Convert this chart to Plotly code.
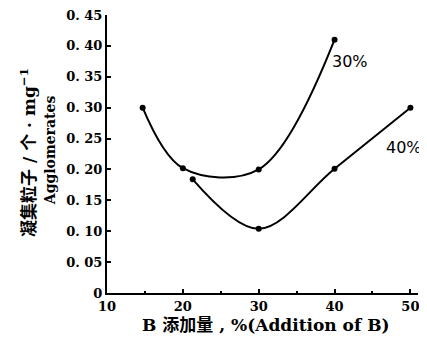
import plotly.graph_objects as go

x30 = [14.7, 20, 30, 40]
y30 = [0.30, 0.202, 0.20, 0.41]
x40 = [21.3, 30, 40, 50]
y40 = [0.184, 0.104, 0.201, 0.30]
ytick_vals = [0, 0.05, 0.10, 0.15, 0.20, 0.25, 0.30, 0.35, 0.40, 0.45]
ytick_text = ["0", "0. 05", "0. 10", "0. 15", "0. 20", "0. 25", "0. 30", "0. 35", "0. 40", "0. 45"]
xtick_vals = [10, 20, 30, 40, 50]
labels = ["30%", "40%"]
label_pos = [(42.1, 0.374), (49.2, 0.235)]

serif = "DejaVu Serif, Liberation Serif, serif"
cjk = "DejaVu Serif, Noto Sans CJK SC, serif"

fig = go.Figure()
for xs, ys in [(x30, y30), (x40, y40)]:
    fig.add_trace(go.Scatter(
        x=xs, y=ys, mode="lines+markers",
        line=dict(color="black", width=2, shape="spline", smoothing=1.0),
        marker=dict(color="black", size=6),
        showlegend=False, cliponaxis=False,
    ))

for txt, (lx, ly) in zip(labels, label_pos):
    fig.add_annotation(x=lx, y=ly, text=txt, showarrow=False,
                       xanchor="center", yanchor="middle",
                       font=dict(family="DejaVu Sans, sans-serif", size=16, color="black"))

# axis titles
fig.add_annotation(xref="paper", yref="paper", x=0.511, y=-0.115,
                   xanchor="center", yanchor="middle",
                   text="<b>B 添加量 , %(Addition of B)</b>", showarrow=False,
                   font=dict(family=cjk, size=17, color="black"))
fig.add_annotation(xref="paper", yref="paper", x=-0.254, y=0.504, textangle=-90,
                   xanchor="center", yanchor="middle",
                   text="<b>凝集粒子 / 个 · mg<sup>−1</sup></b>", showarrow=False,
                   font=dict(family=cjk, size=17, color="black"))
fig.add_annotation(xref="paper", yref="paper", x=-0.183, y=0.514, textangle=-90,
                   xanchor="center", yanchor="middle",
                   text="<b>Agglomerates</b>", showarrow=False,
                   font=dict(family=serif, size=14, color="black"))

# the page body adds an 8px offset, so the margins are shifted to compensate
fig.update_layout(
    width=427, height=342,
    margin=dict(l=99, r=17, t=7, b=57, autoexpand=False),
    paper_bgcolor="white", plot_bgcolor="white",
    font=dict(family=serif, color="black"),
)
fig.update_xaxes(
    range=[10, 51], tickvals=xtick_vals, automargin=False,
    ticks="inside", ticklen=4, tickwidth=2, tickcolor="black",
    minor=dict(tickvals=[15, 25, 35, 45], ticks="inside", ticklen=2, tickcolor="black"),
    showline=True, linecolor="black", linewidth=2,
    showgrid=False, zeroline=False, ticklabeloverflow="allow",
    tickfont=dict(size=13, family=serif, weight="bold"),
)
fig.update_yaxes(
    range=[0, 0.45], tickvals=ytick_vals, ticktext=ytick_text, automargin=False,
    ticks="inside", ticklen=4, tickwidth=2, tickcolor="black",
    showline=True, linecolor="black", linewidth=2,
    showgrid=False, zeroline=False, ticklabeloverflow="allow",
    tickfont=dict(size=13, family=serif, weight="bold"),
)

fig.write_html("out.html")
